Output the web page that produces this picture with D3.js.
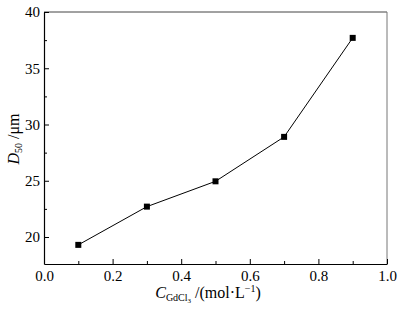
<!DOCTYPE html>
<html>
<head>
<meta charset="utf-8">
<script src="https://cdn.jsdelivr.net/npm/d3@7"></script>
<style>
  body { margin: 0; background: #fff; }
  svg text { font-family: "Liberation Serif", "DejaVu Serif", serif !important; fill: #000; }
</style>
</head>
<body>
<div id="chart"></div>
<script>
const concentration = [0.1, 0.3, 0.5, 0.7, 0.9];
const d50 = [19.3, 22.7, 24.95, 28.9, 37.7];
const xTicks = [0, 0.2, 0.4, 0.6, 0.8, 1.0];
const yTicks = [20, 25, 30, 35, 40];

const W = 398, H = 312;
const margin = { top: 12, right: 11, bottom: 48, left: 44 };
const width  = W - margin.left - margin.right;
const height = H - margin.top - margin.bottom;

const svg = d3.select("#chart").append("svg")
  .attr("width", W).attr("height", H);

const g = svg.append("g")
  .attr("transform", `translate(${margin.left},${margin.top})`);

const x = d3.scaleLinear().domain([0, 1]).range([0, width]);
const y = d3.scaleLinear().domain([17.6, 40]).range([height, 0]);

// frame (top/right lighter, like the scan)
g.append("line").attr("x1", 0).attr("x2", width).attr("y1", 0).attr("y2", 0)
  .attr("stroke", "#444").attr("stroke-width", 1);
g.append("line").attr("x1", width).attr("x2", width).attr("y1", 0).attr("y2", height)
  .attr("stroke", "#777").attr("stroke-width", 1);

// axes with inward ticks
g.append("g")
  .attr("transform", `translate(0,${height})`)
  .call(d3.axisBottom(x).tickValues(xTicks).tickFormat(d3.format(".1f"))
    .tickSizeInner(-5).tickSizeOuter(0).tickPadding(6));
g.append("g")
  .attr("transform", `translate(0,${height})`)
  .call(d3.axisBottom(x).tickValues([0.1, 0.3, 0.5, 0.7, 0.9])
    .tickFormat("").tickSizeInner(-3).tickSizeOuter(0))
  .select(".domain").remove();

g.append("g")
  .call(d3.axisLeft(y).tickValues(yTicks)
    .tickSizeInner(-5).tickSizeOuter(0).tickPadding(4));
g.append("g")
  .call(d3.axisLeft(y).tickValues([22.5, 27.5, 32.5, 37.5])
    .tickFormat("").tickSizeInner(-3).tickSizeOuter(0))
  .select(".domain").remove();

svg.selectAll(".tick text").attr("font-size", 15);
svg.selectAll(".domain").attr("stroke", "#000").attr("stroke-width", 1.2);

// series
const pts = concentration.map((c, i) => ({ c, v: d50[i] }));
g.append("path")
  .datum(pts)
  .attr("fill", "none")
  .attr("stroke", "#000")
  .attr("stroke-width", 1)
  .attr("d", d3.line().x(d => x(d.c)).y(d => y(d.v)));

g.selectAll("rect.pt")
  .data(pts).enter().append("rect")
  .attr("class", "pt")
  .attr("x", d => x(d.c) - 3)
  .attr("y", d => y(d.v) - 3)
  .attr("width", 6).attr("height", 6)
  .attr("fill", "#000");

// y label
const yl = svg.append("text")
  .attr("transform", "translate(19,139) rotate(-90)")
  .attr("text-anchor", "middle")
  .attr("font-size", 16);
yl.append("tspan").attr("font-style", "italic").text("D");
yl.append("tspan").attr("font-size", 10).attr("dy", 3).text("50");
yl.append("tspan").attr("dy", -3).text(" /μm");

// x label
const xl = svg.append("text")
  .attr("x", 208).attr("y", 298)
  .attr("text-anchor", "middle")
  .attr("font-size", 16);
xl.append("tspan").attr("font-style", "italic").text("C");
xl.append("tspan").attr("font-size", 10).attr("dy", 3).text("GdCl");
xl.append("tspan").attr("font-size", 7).attr("dy", 2).text("3");
xl.append("tspan").attr("dy", -5).text("  /(mol·L");
xl.append("tspan").attr("font-size", 10).attr("dy", -6).text("−1");
xl.append("tspan").attr("dy", 6).text(")");
</script>
</body>
</html>
